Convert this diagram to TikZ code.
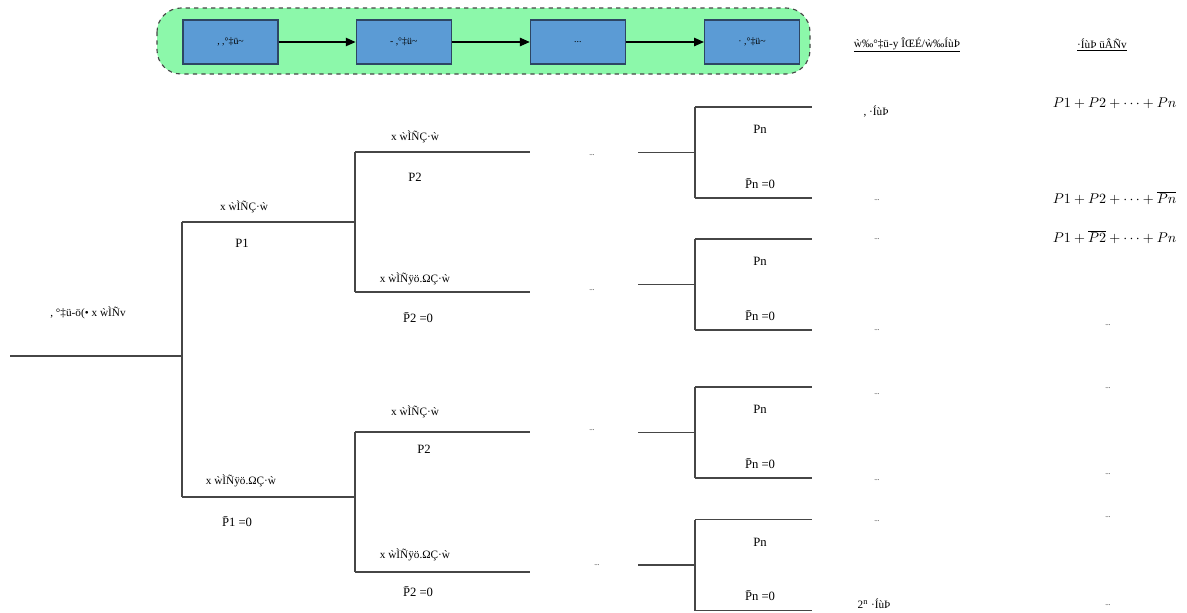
\documentclass[tikz,border=0pt]{standalone}
\usepackage{fontspec}
\setmainfont{Liberation Serif}
\usetikzlibrary{arrows.meta,positioning}

\definecolor{groupgreen}{RGB}{140,248,170}
\definecolor{stepblue}{RGB}{91,155,213}
\definecolor{stepedge}{RGB}{45,70,100}
\definecolor{treegray}{RGB}{70,70,70}

\tikzset{
  stepbox/.style={draw=stepedge, fill=stepblue, line width=0.8pt,
    minimum width=2.375cm, minimum height=1.1cm, font=\scriptsize, inner sep=0pt},
  flow/.style={-{Triangle[length=7pt,width=6pt]}, line width=0.8pt},
  branch/.style={draw=treegray, line width=0.8pt},
  lbl/.style={font=\footnotesize, inner sep=1pt},
  prob/.style={font=\small, inner sep=1pt},
  hdr/.style={font=\footnotesize, inner sep=1pt},
  sumexpr/.style={font=\normalsize, inner sep=1pt, anchor=east},
  dots/.style={font=\tiny, inner sep=1pt},
}

\begin{document}
\begin{tikzpicture}[x=0.025cm, y=-0.025cm]
\useasboundingbox (0,0) rectangle (1187,612);

% group of steps
\draw[dashed, draw=treegray, fill=groupgreen, line width=0.8pt, rounded corners=0.6cm]
  (157,8) rectangle (810,74);
\node[stepbox] (s1) at (230.5,42) {, ,°‡ü\textasciitilde};
\node[stepbox, right=1.925cm of s1] (s2) {- ,°‡ü\textasciitilde};
\node[stepbox, right=1.95cm of s2] (s3) {...};
\node[stepbox, right=1.95cm of s3] (s4) {· ,°‡ü\textasciitilde};
\draw[flow] (s1) -- (s2);
\draw[flow] (s2) -- (s3);
\draw[flow] (s3) -- (s4);

% tree, first two levels
\coordinate (r0) at (10,356);
\coordinate (r) at (182,356);
\coordinate (a) at (182,222);
\coordinate (b) at (182,497);
\coordinate (a1) at (355,222);
\coordinate (b1) at (355,497);
\coordinate (aa) at (355,152);
\coordinate (ab) at (355,292);
\coordinate (ba) at (355,432);
\coordinate (bb) at (355,572);
\draw[branch] (r0) -- (r);
\draw[branch] (a) -- (b);
\draw[branch] (a) -- (a1);
\draw[branch] (b) -- (b1);
\draw[branch] (aa) -- (ab);
\draw[branch] (ba) -- (bb);
\foreach \n in {aa,ab,ba,bb}
  \draw[branch] (\n) -- ++(175,0) coordinate (\n e);

\node[lbl] (rl) at (88,313) {, °‡ü-ö(• x ẁÌÑv};
\node[lbl] (al) at (244,207) {x ẁÌÑÇ·ẁ};
\node[prob] (ap) at (242,243) {P1};
\node[lbl] (bl) at (241,481) {x ẁÌÑÿö.ΩÇ·ẁ};
\node[prob] (bp) at (237,522) {P̄1 =0};
\node[lbl] (aal) at (415,137) {x ẁÌÑÇ·ẁ};
\node[prob] (aap) at (415,177) {P2};
\node[lbl] (abl) at (415,279) {x ẁÌÑÿö.ΩÇ·ẁ};
\node[prob] (abp) at (418,318) {P̄2 =0};
\node[lbl] (bal) at (415,412) {x ẁÌÑÇ·ẁ};
\node[prob] (bap) at (424,449) {P2};
\node[lbl] (bbl) at (415,555) {x ẁÌÑÿö.ΩÇ·ẁ};
\node[prob] (bbp) at (418,592) {P̄2 =0};

\node[dots] (m1) at (592,155) {...};
\node[dots] (m2) at (592,290) {...};
\node[dots] (m3) at (592,430) {...};
\node[dots] (m4) at (597,565) {...};

% last level forks
\foreach \y [count=\i] in {152.5,284.5,432.5,565} {
  \coordinate (t\i) at (638,\y);
  \coordinate (f\i) at (695,\y);
  \coordinate (u\i) at (695,\y-45.5);
  \coordinate (d\i) at (695,\y+45.5);
  \coordinate (ue\i) at (812,\y-45.5);
  \coordinate (de\i) at (812,\y+45.5);
  \draw[branch] (t\i) -- (f\i);
  \draw[branch] (u\i) -- (d\i);
  \draw[branch] (u\i) -- (ue\i);
  \draw[branch] (d\i) -- (de\i);
  \node[prob] (pn\i) at (760,\y-23) {Pn};
  \node[prob] (qn\i) at (760,\y+31) {P̄n =0};
}

% result columns
\node[hdr] (h1) at (907,45) {\underline{ẁ‰°‡ü-y ÎŒÉ/ẁ‰ÍùÞ}};
\node[hdr] (h2) at (1102,45) {\underline{·ÍùÞ üÂÑv}};
\node[lbl] (c1) at (876,112) {, ·ÍùÞ};
\foreach \y [count=\i] in {200,239,330,394,480,521}
  \node[dots] (c1\i) at (877,\y) {...};
\node[lbl] (cn) at (874,604) {2\textsuperscript{n} ·ÍùÞ};

\node[sumexpr] (e1) at (1178,103) {$P1+P2+\cdots+Pn$};
\node[sumexpr] (e2) at (1178,198) {$P1+P2+\cdots+\overline{Pn}$};
\node[sumexpr] (e3) at (1178,237) {$P1+\overline{P2}+\cdots+Pn$};
\foreach \y [count=\i] in {325,388,474,517,605}
  \node[dots] (c2\i) at (1108,\y) {...};
\end{tikzpicture}
\end{document}
